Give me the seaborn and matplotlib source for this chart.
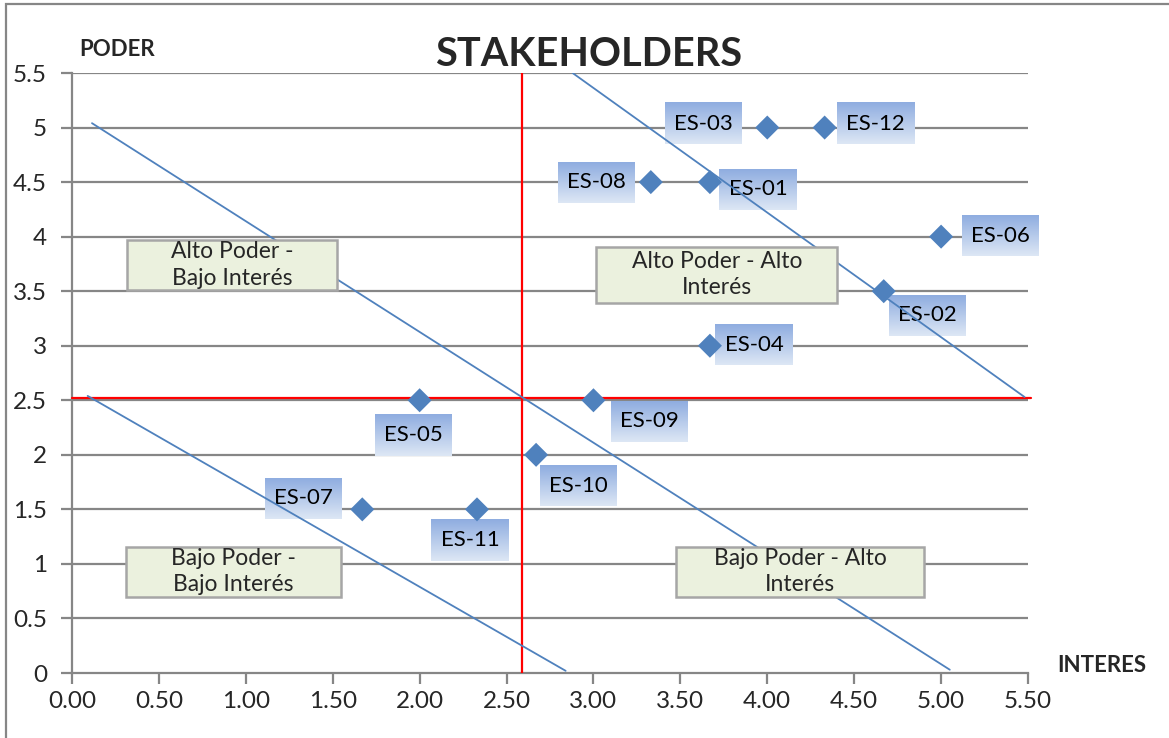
import numpy as np
import pandas as pd
import matplotlib
matplotlib.use("Agg")
import matplotlib.pyplot as plt
import seaborn as sns
from matplotlib.patches import Rectangle

# stakeholder data
codes = ["ES-01", "ES-02", "ES-03", "ES-04", "ES-05", "ES-06",
         "ES-07", "ES-08", "ES-09", "ES-10", "ES-11", "ES-12"]
interes = [3.67, 4.67, 4.00, 3.67, 2.00, 5.00, 1.67, 3.33, 3.00, 2.67, 2.33, 4.33]
poder = [4.5, 3.5, 5.0, 3.0, 2.5, 4.0, 1.5, 4.5, 2.5, 2.0, 1.5, 5.0]
# label offsets in pixels relative to the marker
label_dx = [48, 44, -64, 44, -6, 59, -59, -54, 56, 42, -7, 51]
label_dy = [-7, -24, 4, 1, -35, 1, 11, 0, -21, -31, -31, 4]

# dividing lines
corte_x = 2.59
corte_y = 2.52

# diagonal boundary lines (start, end)
diag_x = [[0.115, 5.05], [2.88, 5.48], [0.09, 2.84]]
diag_y = [[5.04, 0.03], [5.5, 2.53], [2.54, 0.02]]

# quadrant captions
cuadrantes = ["Alto Poder -\nBajo Interés", "Alto Poder - Alto\nInterés",
              "Bajo Poder -\nBajo Interés", "Bajo Poder - Alto\nInterés"]
cuad_x = [0.92, 3.71, 0.93, 4.19]
cuad_y = [3.74, 3.65, 0.93, 0.93]
cuad_w = [210, 241, 215, 248]
cuad_h = [50, 56, 50, 50]

x_ticks = np.arange(0, 5.51, 0.5)
y_ticks = np.arange(0, 5.51, 0.5)

sns.set_theme(style="white")
plt.rcParams["font.family"] = ["Lato", "DejaVu Sans"]

fig = plt.figure(figsize=(11.69, 7.38), dpi=100)
ax = fig.add_axes([72 / 1169, 65 / 738, 956 / 1169, 600 / 738])

grid_c = "#868686"
for yv in y_ticks[1:]:
    ax.axhline(yv, color=grid_c, lw=1.6, zorder=0)

# diagonal lines
for lx, ly in zip(diag_x, diag_y):
    sns.lineplot(x=lx, y=ly, ax=ax, color="#4F81BD", lw=1.3, sort=False, zorder=4)

# red dividing lines
ax.axvline(corte_x, color="#FF0000", lw=1.6, zorder=3)
ax.plot([0, 5.52], [corte_y, corte_y], color="#FF0000", lw=1.6, zorder=3, clip_on=False)

df = pd.DataFrame({"codigo": codes, "interes": interes, "poder": poder})
sns.scatterplot(data=df, x="interes", y="poder", marker="D", s=150,
                color="#4F81BD", edgecolor="none", ax=ax, zorder=5)

ax.set_xlim(0, 5.5)
ax.set_ylim(0, 5.5)
ax.set_xticks(x_ticks)
ax.set_yticks(y_ticks)
ax.set_xticklabels([f"{v:.2f}" for v in x_ticks])
ax.set_yticklabels([f"{v:g}" for v in y_ticks])
ax.tick_params(axis="both", labelsize=17.5, length=8, width=1.6, color=grid_c,
               direction="out", bottom=True, left=True, pad=5)
ax.tick_params(axis="y", pad=10)
ax.set_xlabel("")
ax.set_ylabel("")
for side in ["top", "right"]:
    ax.spines[side].set_visible(False)
for side in ["left", "bottom"]:
    ax.spines[side].set_color(grid_c)
    ax.spines[side].set_linewidth(1.6)

# stakeholder labels
texts = []
for c, xv, yv, dx, dy in zip(codes, interes, poder, label_dx, label_dy):
    t = ax.annotate(c, (xv, yv), xytext=(dx, dy), textcoords="offset pixels",
                    ha="center", va="center", fontsize=16, color="black",
                    zorder=3.5, annotation_clip=False)
    texts.append(t)

# quadrant captions
cuad_texts = []
for txt, xv, yv in zip(cuadrantes, cuad_x, cuad_y):
    t = ax.text(xv, yv, txt, ha="center", va="center", fontsize=16.5,
                linespacing=1.3, zorder=6.5)
    cuad_texts.append(t)

# backgrounds sized in pixels around each text
fig.canvas.draw()
renderer = fig.canvas.get_renderer()
inv = ax.transData.inverted()


def pixel_box(t, w, h):
    bb = t.get_window_extent(renderer)
    cx = (bb.x0 + bb.x1) / 2
    cy = (bb.y0 + bb.y1) / 2
    x0, y0 = inv.transform((cx - w / 2, cy - h / 2))
    x1, y1 = inv.transform((cx + w / 2, cy + h / 2))
    return x0, y0, x1, y1


grad = np.linspace(0, 1, 64).reshape(-1, 1)
cmap = matplotlib.colors.LinearSegmentedColormap.from_list("g", ["#8FADE0", "#DDE7F5"])
for t in texts:
    x0, y0, x1, y1 = pixel_box(t, 77, 41)
    ax.imshow(grad, extent=(x0, x1, y0, y1), cmap=cmap, aspect="auto",
              origin="upper", zorder=2.5, clip_on=False, interpolation="bilinear")

for t, w, h in zip(cuad_texts, cuad_w, cuad_h):
    x0, y0, x1, y1 = pixel_box(t, w, h)
    ax.add_patch(Rectangle((x0, y0), x1 - x0, y1 - y0, fc="#EBF1DE",
                           ec="#A6A6A6", lw=1.8, zorder=6))

ax.set_xlim(0, 5.5)
ax.set_ylim(0, 5.5)

fig.text(589 / 1169, 1 - 55 / 738, "STAKEHOLDERS", ha="center", va="center",
         fontsize=28.5, fontweight="bold")
fig.text(79 / 1169, 1 - 50 / 738, "PODER", ha="left", va="center",
         fontsize=16, fontweight="bold")
fig.text(1057 / 1169, 1 - 665 / 738, "INTERES", ha="left", va="center",
         fontsize=16, fontweight="bold")

# chart area border
fig.patches.append(Rectangle((6 / 1169, -0.1), 1.2, 1 - 4 / 738 + 0.1,
                             transform=fig.transFigure, fill=False,
                             ec="#868686", lw=1.6))

fig.savefig("out.png", dpi=100)
